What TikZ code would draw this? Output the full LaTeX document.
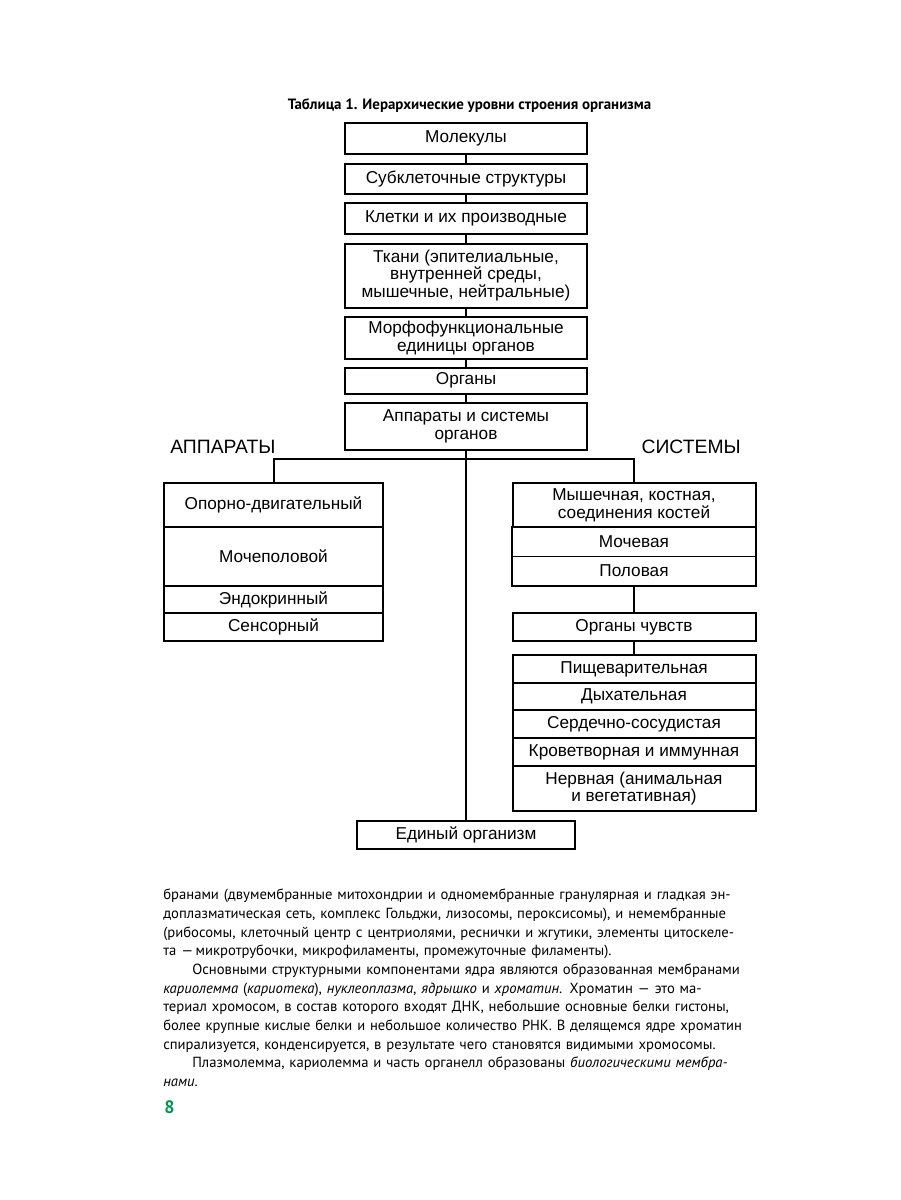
\documentclass[tikz,border=0pt]{standalone}
\usepackage{fontspec}
\usepackage{graphicx}
\setmainfont{Liberation Sans}
\newfontfamily\bodyfont{PT Sans}
\definecolor{pagegreen}{RGB}{0,150,80}
\newcommand{\boxfont}{\fontsize{12.9}{13.4}\selectfont}
\newcommand{\bodytext}{\bodyfont\fontsize{11}{14}\selectfont}
\newcommand{\indentline}[1]{\hspace*{21.75pt}\makebox[\dimexpr\linewidth-21.75pt\relax][s]{#1}}
\newcommand{\fullline}[1]{\makebox[\linewidth][s]{#1}}
\newcommand{\tightline}[1]{\resizebox{\linewidth}{\height}{#1}}
\tikzset{
  cell/.style 2 args={draw, line width=1.5pt, inner sep=0pt,
    minimum width=#1*0.75pt, minimum height=#2*0.75pt,
    align=center, font=\boxfont},
  bare/.style 2 args={inner sep=0pt,
    minimum width=#1*0.75pt, minimum height=#2*0.75pt,
    align=center, font=\boxfont},
  link/.style={line width=1.5pt},
  heading/.style={font=\fontsize{14.5}{16}\selectfont, inner sep=0pt},
}
\begin{document}
\begin{tikzpicture}[x=0.75pt, y=-0.75pt]
\useasboundingbox (0,0) rectangle (900,1200);

% title
\node[font=\bodyfont\bfseries\fontsize{11.2}{13}\selectfont] (ttl) at (469.5,106)
  {Таблица 1. Иерархические уровни строения организма};

% levels
\node[cell={242}{31}] (mol) at (466,138) {Молекулы};
\node[cell={242}{30}] (sub) at (466,178.5) {Субклеточные структуры};
\node[cell={242}{31}] (kle) at (466,218) {Клетки и их производные};
\node[cell={242}{64}] (tka) at (466,275.5) {Ткани (эпителиальные,\\ внутренней среды,\\ мышечные, нейтральные)};
\node[cell={242}{41.5}] (mor) at (466,337.75) {Морфофункциональные\\ единицы органов};
\node[cell={242}{25.5}] (org) at (466,380.75) {Органы};
\node[cell={242}{46.5}] (app) at (466,426.25) {Аппараты и системы\\ органов};

\draw[link] (mol) -- (sub);
\draw[link] (sub) -- (kle);
\draw[link] (kle) -- (tka);
\draw[link] (tka) -- (mor);
\draw[link] (mor) -- (org);
\draw[link] (org) -- (app);

\node[heading, anchor=base west] (hap) at (170,453) {АППАРАТЫ};
\node[heading, anchor=base east] (hsys) at (741,453) {СИСТЕМЫ};

% apparatus
\node[cell={219}{44}] (opd) at (273.5,505) {Опорно-двигательный};
\node[cell={219}{59}] (mcp) at (273.5,556.5) {Мочеполовой};
\node[cell={219}{27}] (end) at (273.5,599.5) {Эндокринный};
\node[cell={219}{28}] (sen) at (273.5,627) {Сенсорный};

% systems
\node[cell={243}{44}] (msk) at (634,505) {Мышечная, костная,\\ соединения костей};
\node[bare={243}{29}] (moc) at (634,541.5) {Мочевая};
\node[bare={243}{30}] (pol) at (634,571) {Половая};
\draw[link] (moc.north west) rectangle (pol.south east);
\draw[line width=0.75pt] (moc.south west) -- (moc.south east);
\node[cell={243}{28}] (och) at (634,627) {Органы чувств};
\node[cell={243}{28}] (pis) at (634,669) {Пищеварительная};
\node[cell={243}{27}] (dyh) at (634,696.5) {Дыхательная};
\node[cell={243}{28}] (ser) at (634,724) {Сердечно-сосудистая};
\node[cell={243}{28}] (krv) at (634,752) {Кроветворная и иммунная};
\node[cell={243}{45}] (nrv) at (634,788.5) {Нервная (анимальная\\ и вегетативная)};

\draw[link] (pol) -- (och);
\draw[link] (och) -- (pis);

% whole organism
\node[cell={218}{28}] (edin) at (466,835) {Единый организм};
\draw[link] (app) -- (edin);

\coordinate (busl) at (273.5,459);
\coordinate (busr) at (634,459);
\draw[link] (busl |- opd.north) -- (busl) -- (busr) -- (busr |- msk.north);

% page text
\node[anchor=north west, inner sep=0pt, text width=434pt, align=left, font=\bodytext] (txt) at (163,889) {%
\fullline{бранами (двумембранные митохондрии и одномембранные гранулярная и гладкая эн-}\\
\fullline{доплазматическая сеть, комплекс Гольджи, лизосомы, пероксисомы), и немембранные}\\
\fullline{(рибосомы, клеточный центр с центриолями, реснички и жгутики, элементы цитоскеле-}\\
та —\,микротрубочки, микрофиламенты, промежуточные филаменты).\\
\indentline{Основными структурными компонентами ядра являются образованная мембранами}\\
\fullline{\textit{кариолемма} (\textit{кариотека}), \textit{нуклеоплазма}, \textit{ядрышко} и \textit{хроматин}. Хроматин — это ма-}\\
\fullline{териал хромосом, в состав которого входят ДНК, небольшие основные белки гистоны,}\\
\tightline{более крупные кислые белки и небольшое количество РНК. В делящемся ядре хроматин}\\
спирализуется, конденсируется, в~результате чего становятся видимыми хромосомы.\\
\indentline{Плазмолемма, кариолемма и часть органелл образованы \textit{биологическими мембра-}}\\
\textit{нами}.};

\node[font=\bodyfont\bfseries\fontsize{13.5}{16}\selectfont, text=pagegreen] (pnum) at (169.5,1107) {8};
\end{tikzpicture}
\end{document}
